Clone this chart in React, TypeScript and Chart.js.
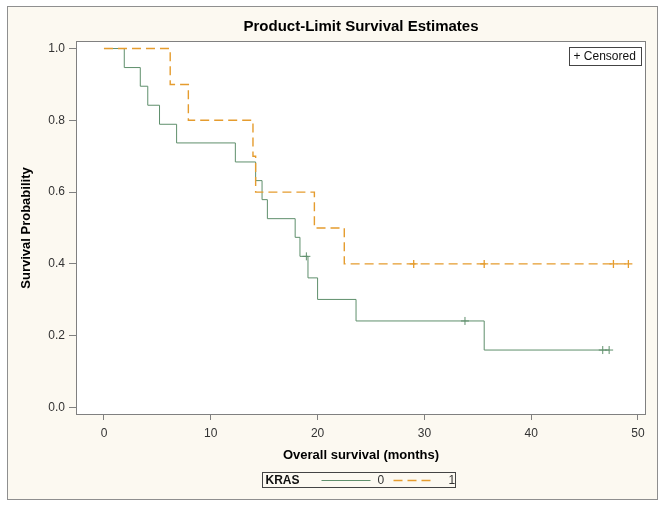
import React, { useEffect, useRef } from 'react';
import { Chart, registerables } from 'chart.js';

Chart.register(...registerables);

// ---------- text ----------
const TITLE = 'Product-Limit Survival Estimates';
const X_TITLE = 'Overall survival (months)';
const Y_TITLE = 'Survival Probability';
const LEGEND_TITLE = 'KRAS';
const GROUP_LABELS = ['0', '1'];
const CENSOR_LABEL = '+ Censored';

// ---------- ticks ----------
const X_TICKS = [0, 10, 20, 30, 40, 50];
const Y_TICKS = [0, 0.2, 0.4, 0.6, 0.8, 1.0];

// ---------- KRAS = 0 ----------
const kras0Times = [0, 1.9, 3.4, 4.1, 5.2, 6.8, 12.3, 14.2, 14.8, 15.3, 17.9, 18.35, 19.1, 20.0, 23.6, 35.6, 47.3];
const kras0Surv = [1, 0.947, 0.895, 0.842, 0.789, 0.737, 0.684, 0.632, 0.579, 0.526, 0.474, 0.421, 0.361, 0.301, 0.241, 0.16, 0.16];
const kras0CensorTimes = [18.95, 33.8, 46.7, 47.3];
const kras0CensorSurv = [0.421, 0.241, 0.16, 0.16];

// ---------- KRAS = 1 ----------
const kras1Times = [0, 6.2, 7.9, 13.95, 14.2, 19.7, 22.5, 49.1];
const kras1Surv = [1, 0.9, 0.8, 0.7, 0.6, 0.5, 0.4, 0.4];
const kras1CensorTimes = [29.0, 35.6, 47.7, 49.1];
const kras1CensorSurv = [0.4, 0.4, 0.4, 0.4];

// ---------- styles ----------
const FONT = '"Liberation Sans", Arial, Helvetica, sans-serif';
const GREEN = '#5f8f6c';
const ORANGE = '#e59c2e';
const DASH = [9, 5];
const FRAME_BG = '#fcf9f1';
const AXIS_GREY = '#808080';
const TEXT_DARK = '#333333';

const toPoints = (xs: number[], ys: number[]) => xs.map((x, i) => ({ x, y: ys[i] }));

const decorPlugin = {
  id: 'decor',
  beforeDraw(chart: any) {
    const { ctx, chartArea: a, width, height } = chart;
    ctx.save();
    ctx.fillStyle = '#ffffff';
    ctx.fillRect(0, 0, width, height);
    ctx.fillStyle = FRAME_BG;
    ctx.fillRect(7.5, 6.5, 650, 493);
    ctx.strokeStyle = '#8f8f8f';
    ctx.lineWidth = 1;
    ctx.strokeRect(7.5, 6.5, 650, 493);
    ctx.fillStyle = '#ffffff';
    ctx.fillRect(a.left, a.top, a.right - a.left, a.bottom - a.top);
    ctx.restore();
  },
  afterDraw(chart: any) {
    const { ctx, chartArea: a } = chart;
    ctx.save();
    // plot frame
    const L = Math.round(a.left) + 0.5;
    const T = Math.round(a.top) + 0.5;
    const R = Math.round(a.right) - 0.5;
    const B = Math.round(a.bottom) - 0.5;
    ctx.strokeStyle = AXIS_GREY;
    ctx.lineWidth = 1;
    ctx.strokeRect(L, T, R - L, B - T);

    // title, centred over the plot area
    ctx.fillStyle = '#000000';
    ctx.font = `bold 15px ${FONT}`;
    ctx.textAlign = 'center';
    ctx.textBaseline = 'middle';
    ctx.fillText(TITLE, (a.left + a.right) / 2, 27);

    // censored inset legend
    ctx.textAlign = 'left';
    ctx.font = `12px ${FONT}`;
    const cw = Math.round(ctx.measureText(CENSOR_LABEL).width + 10);
    const bx = Math.round(a.right - 5 - cw) + 0.5;
    const by = Math.round(a.top + 6) + 0.5;
    ctx.fillStyle = '#ffffff';
    ctx.fillRect(bx, by, cw, 18);
    ctx.strokeStyle = '#444444';
    ctx.strokeRect(bx, by, cw, 18);
    ctx.fillStyle = '#111111';
    ctx.fillText(CENSOR_LABEL, bx + 4, by + 9.5);

    // bottom legend
    const lw = 193;
    const lh = 15;
    const cx = (a.left + a.right) / 2 - 3;
    const lx = Math.round(cx - lw / 2) + 0.5;
    const ly = 472.5;
    ctx.strokeStyle = '#444444';
    ctx.strokeRect(lx, ly, lw, lh);
    const my = ly + lh / 2;
    ctx.fillStyle = '#111111';
    ctx.font = `bold 12px ${FONT}`;
    ctx.fillText(LEGEND_TITLE, lx + 3, my + 0.5);
    ctx.font = `12px ${FONT}`;
    ctx.strokeStyle = GREEN;
    ctx.lineWidth = 1;
    ctx.beginPath();
    ctx.moveTo(lx + 59, Math.round(my) + 0.5);
    ctx.lineTo(lx + 108, Math.round(my) + 0.5);
    ctx.stroke();
    ctx.fillStyle = TEXT_DARK;
    ctx.fillText(GROUP_LABELS[0], lx + 115, my + 0.5);
    ctx.strokeStyle = ORANGE;
    ctx.lineWidth = 1.4;
    ctx.setLineDash(DASH);
    ctx.beginPath();
    ctx.moveTo(lx + 131, Math.round(my) + 0.5);
    ctx.lineTo(lx + 173, Math.round(my) + 0.5);
    ctx.stroke();
    ctx.setLineDash([]);
    ctx.fillText(GROUP_LABELS[1], lx + 186, my + 0.5);
    ctx.restore();
  },
};

export default function App() {
  const ref = useRef<HTMLCanvasElement | null>(null);

  useEffect(() => {
    document.body.style.margin = '0';
    const canvas = ref.current;
    if (!canvas) return;
    Chart.defaults.font.family = FONT;

    const chart = new Chart(canvas, {
      type: 'line',
      data: {
        datasets: [
          {
            label: GROUP_LABELS[0],
            data: toPoints(kras0Times, kras0Surv),
            borderColor: GREEN,
            borderWidth: 1,
            stepped: 'before',
            pointRadius: 0,
            fill: false,
            order: 2,
          },
          {
            label: GROUP_LABELS[1],
            data: toPoints(kras1Times, kras1Surv),
            borderColor: ORANGE,
            borderWidth: 1.4,
            borderDash: DASH,
            stepped: 'before',
            pointRadius: 0,
            fill: false,
            order: 1,
          },
          {
            label: GROUP_LABELS[0] + ' censored',
            data: toPoints(kras0CensorTimes, kras0CensorSurv),
            showLine: false,
            pointStyle: 'cross',
            pointRadius: 4,
            pointBorderWidth: 1,
            pointBorderColor: GREEN,
            borderColor: GREEN,
            order: 2,
          },
          {
            label: GROUP_LABELS[1] + ' censored',
            data: toPoints(kras1CensorTimes, kras1CensorSurv),
            showLine: false,
            pointStyle: 'cross',
            pointRadius: 4,
            pointBorderWidth: 1.3,
            pointBorderColor: ORANGE,
            borderColor: ORANGE,
            order: 0,
          },
        ],
      },
      options: {
        animation: false,
        responsive: false,
        devicePixelRatio: 1,
        layout: { padding: { left: 0, right: 18, top: 41, bottom: 0 } },
        plugins: {
          legend: { display: false },
          tooltip: { enabled: false },
          title: { display: false },
        },
        scales: {
          x: {
            type: 'linear',
            min: -2.62,
            max: 50.75,
            afterBuildTicks: (s: any) => { s.ticks = X_TICKS.map((v) => ({ value: v })); },
            afterFit: (s: any) => { s.height = 92; },
            ticks: {
              color: TEXT_DARK,
              font: { size: 12, family: FONT },
              padding: 6,
              maxRotation: 0,
              callback: (v: any) => String(v),
            },
            grid: { drawOnChartArea: false, drawTicks: true, tickLength: 5, color: AXIS_GREY },
            border: { display: false },
            title: {
              display: true,
              text: X_TITLE,
              color: '#000000',
              font: { size: 13, weight: 'bold', family: FONT, lineHeight: 1.2 },
              padding: { top: 0, bottom: 44 },
            },
          },
          y: {
            type: 'linear',
            min: -0.021,
            max: 1.021,
            afterBuildTicks: (s: any) => { s.ticks = Y_TICKS.map((v) => ({ value: v })); },
            afterFit: (s: any) => { s.width = 76; },
            ticks: {
              color: TEXT_DARK,
              font: { size: 12, family: FONT },
              padding: 4,
              callback: (v: any) => Number(v).toFixed(1),
            },
            grid: { drawOnChartArea: false, drawTicks: true, tickLength: 7, color: AXIS_GREY },
            border: { display: false },
            title: {
              display: true,
              text: Y_TITLE,
              color: '#000000',
              font: { size: 13, weight: 'bold', family: FONT, lineHeight: 1.2 },
              padding: { top: 19, bottom: 0 },
            },
          },
        },
      },
      plugins: [decorPlugin],
    } as any);

    return () => chart.destroy();
  }, []);

  return (
    <div style={{ position: 'fixed', left: 0, top: 0, width: 664, height: 507 }}>
      <canvas ref={ref} width={664} height={507} style={{ width: 664, height: 507, display: 'block' }} />
    </div>
  );
}
